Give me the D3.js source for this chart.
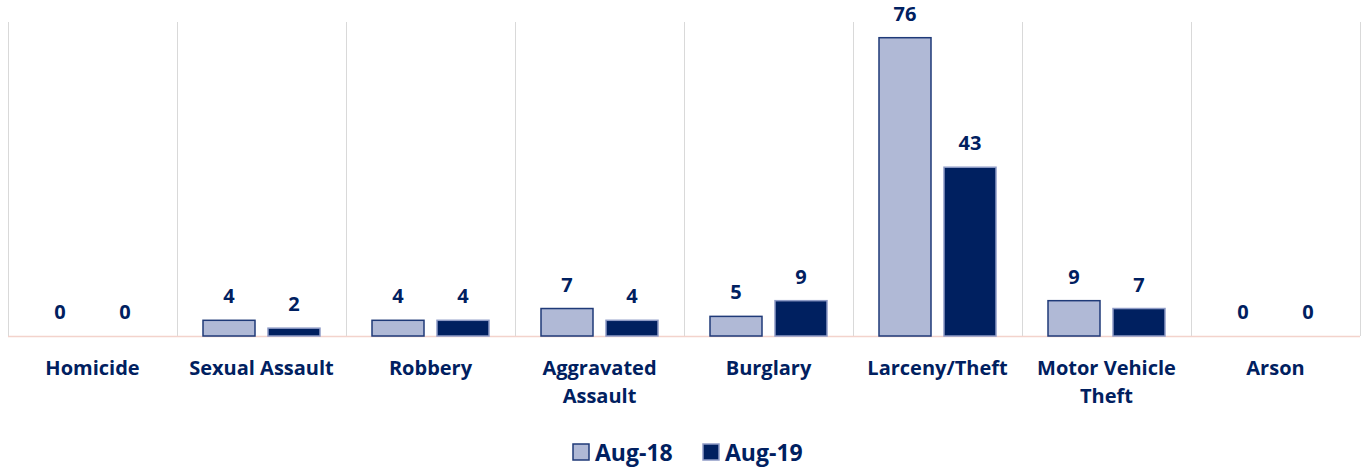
<!DOCTYPE html>
<html>
<head>
<meta charset="UTF-8">
<script src="https://cdn.jsdelivr.net/npm/d3@7"></script>
<style>
  body { margin: 0; background: #fff; }
  svg text { font-family: "Open Sans", "Noto Sans", sans-serif; font-weight: 700; fill: #002060; }
  .grid-line { stroke: #d9d9d9; stroke-width: 1.5; shape-rendering: crispEdges; }
</style>
</head>
<body>
<div id="root"></div>
<script>
  // data
  let categories = ["Homicide", "Sexual Assault", "Robbery", "Aggravated Assault", "Burglary", "Larceny/Theft", "Motor Vehicle Theft", "Arson"]
  let labelLines = [["Homicide"], ["Sexual Assault"], ["Robbery"], ["Aggravated", "Assault"], ["Burglary"], ["Larceny/Theft"], ["Motor Vehicle", "Theft"], ["Arson"]]
  let seriesNames = ["Aug-18", "Aug-19"]
  let aug18 = [0, 4, 4, 7, 5, 76, 9, 0]
  let aug19 = [0, 2, 4, 4, 9, 43, 7, 0]
  let yMax = 80

  let width = 1364, height = 469
  let mLeft = 8, mRight = 1360, mTop = 22, mBottom = 336

  let fills = ["#b0b9d6", "#002060"]
  let strokes = ["#1f3a78", "#8e9bc6"]

  let svg = d3.select("#root").append("svg").attr("width", width).attr("height", height)

  let x = d3.scaleBand().domain(categories).range([mLeft, mRight])
  let xs = d3.scaleBand().domain(seriesNames).range([0, x.bandwidth()]).paddingInner(0.2).paddingOuter(0.4)
  let y = d3.scaleLinear().domain([0, yMax]).range([mBottom, mTop])

  // vertical gridlines at category boundaries
  let bounds = categories.map(c => x(c)).concat([mRight])
  svg.append("g").selectAll("line").data(bounds).join("line")
    .attr("class", "grid-line")
    .attr("x1", d => Math.round(d) + 0.5).attr("x2", d => Math.round(d) + 0.5)
    .attr("y1", mTop).attr("y2", mBottom)

  // baseline
  svg.append("line").attr("x1", mLeft).attr("x2", mRight).attr("y1", mBottom + 0.5).attr("y2", mBottom + 0.5)
    .attr("stroke", "#f3d3cc").attr("stroke-width", 1.5)

  let rows = []
  categories.forEach((c, i) => {
    rows.push({ cat: c, s: 0, v: aug18[i] })
    rows.push({ cat: c, s: 1, v: aug19[i] })
  })

  let bars = svg.append("g")
  bars.selectAll("rect").data(rows.filter(d => d.v > 0)).join("rect")
    .attr("x", d => x(d.cat) + xs(seriesNames[d.s]))
    .attr("width", xs.bandwidth())
    .attr("y", d => y(d.v))
    .attr("height", d => y(0) - y(d.v))
    .attr("fill", d => fills[d.s])
    .attr("stroke", d => strokes[d.s])
    .attr("stroke-width", 1.5)

  bars.selectAll("text").data(rows).join("text")
    .attr("x", d => x(d.cat) + xs(seriesNames[d.s]) + xs.bandwidth() / 2)
    .attr("y", d => y(d.v) - 17)
    .attr("text-anchor", "middle")
    .style("font-size", "20px")
    .text(d => d.v)

  // category labels
  let lab = svg.append("g").selectAll("text").data(categories).join("text")
    .attr("x", d => x(d) + x.bandwidth() / 2)
    .attr("y", 375)
    .attr("text-anchor", "middle")
    .style("font-size", "20px")
  lab.selectAll("tspan").data((d, i) => labelLines[i]).join("tspan")
    .attr("x", function () { return d3.select(this.parentNode).attr("x") })
    .attr("dy", (d, i) => i === 0 ? 0 : 28)
    .text(d => d)

  // legend
  let legend = svg.append("g").attr("transform", "translate(573,452)")
  let lx = [0, 130]
  seriesNames.forEach((s, i) => {
    let g = legend.append("g").attr("transform", "translate(" + lx[i] + ",0)")
    g.append("rect").attr("x", 0).attr("y", -8).attr("width", 16).attr("height", 16)
      .attr("fill", fills[i]).attr("stroke", strokes[i]).attr("stroke-width", 1.5)
    g.append("text").attr("x", 22).attr("y", 8.5).style("font-size", "23px").text(s)
  })
</script>
</body>
</html>
